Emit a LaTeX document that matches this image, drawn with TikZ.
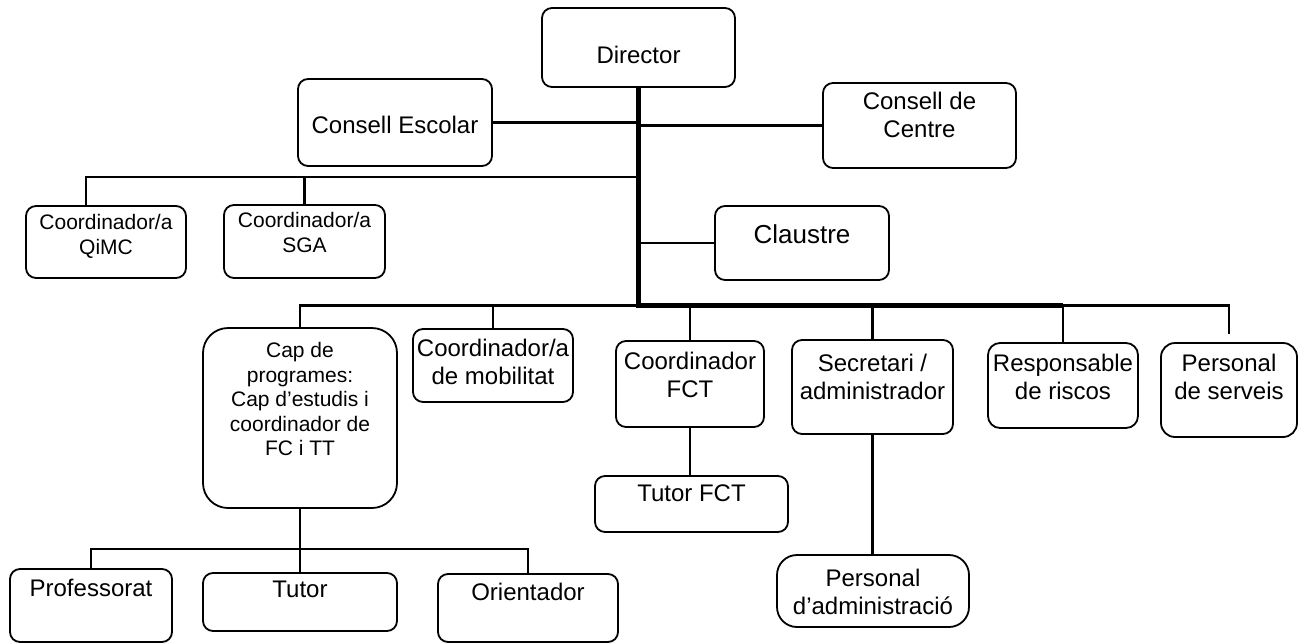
\documentclass[tikz,border=0pt]{standalone}
\usepackage{fontspec}
\setmainfont{Liberation Sans}
\usetikzlibrary{positioning}

\begin{document}
\begin{tikzpicture}[x=1pt, y=-1pt,
    % boxes and their texts
    box/.style={draw, line width=1.8pt, rounded corners=10pt, inner sep=0pt},
    lbl/.style={anchor=north, inner sep=0pt, align=center, font=\fontsize{24}{27.5}\selectfont},
    small/.style={font=\fontsize{21}{24.5}\selectfont},
    % connectors
    link/.style={line width=2.6pt},
    trunk/.style={line width=5pt, line join=miter},
]
    \useasboundingbox (0,0) rectangle (1304,643);

    % Top level
    \node[box, minimum width=193, minimum height=79, label={[lbl, yshift=-39pt]north:Director}] (dir) at (638.5,47.5) {};
    \node[box, minimum width=194, minimum height=87, label={[lbl, yshift=-38pt]north:Consell Escolar}] (cesc) at (395,122.5) {};
    \node[box, minimum width=193, minimum height=85, label={[lbl, yshift=-10pt]north:{Consell de\\Centre}}] (ccen) at (919.5,125.5) {};
    \node[box, minimum width=174, minimum height=74, label={[lbl, yshift=-19pt, font=\fontsize{26}{30}\selectfont]north:Claustre}] (claus) at (802,243) {};

    % Coordinators on the left
    \node[box, minimum width=160, minimum height=72, label={[lbl, small, yshift=-9pt]north:{Coordinador/a\\QiMC}}] (qimc) at (106,242) {};
    \node[box, minimum width=161, minimum height=73, label={[lbl, small, yshift=-8pt]north:{Coordinador/a\\SGA}}] (sga) at (304.5,241.5) {};

    % Second row
    \node[box, rounded corners=25pt, minimum width=194, minimum height=180,
        label={[lbl, small, yshift=-15pt]north:{Cap de\\programes:\\Cap d’estudis i\\coordinador de\\FC i TT}}] (cap) at (300,418) {};
    \node[box, minimum width=160, minimum height=73, label={[lbl, yshift=-11pt]north:{Coordinador/a\\de mobilitat}}] (mob) at (493,365.5) {};
    \node[box, minimum width=148, minimum height=86, label={[lbl, yshift=-12pt]north:{Coordinador\\FCT}}] (cfct) at (690,384) {};
    \node[box, minimum width=161, minimum height=94, label={[lbl, yshift=-15pt]north:{Secretari /\\administrador}}] (sec) at (872.5,387) {};
    \node[box, rounded corners=12pt, minimum width=150, minimum height=85, label={[lbl, yshift=-12pt]north:{Responsable\\de riscos}}] (resp) at (1063,385.5) {};
    \node[box, rounded corners=14pt, minimum width=136, minimum height=94, label={[lbl, yshift=-12pt]north:{Personal\\de serveis}}] (pserv) at (1229,390) {};

    % Third row
    \node[box, minimum width=193, minimum height=56, label={[lbl, yshift=-9pt]north:Tutor FCT}] (tfct) at (691.5,504) {};
    \node[box, rounded corners=20pt, minimum width=192, minimum height=72, label={[lbl, yshift=-15pt]north:{Personal\\d’administració}}] (padm) at (873,591) {};
    \node[box, minimum width=162, minimum height=73, label={[lbl, yshift=-11pt]north:Professorat}] (prof) at (91,605.5) {};
    \node[box, minimum width=194, minimum height=58, label={[lbl, yshift=-9pt]north:Tutor}] (tutor) at (300,602) {};
    \node[box, minimum width=180, minimum height=68, label={[lbl, yshift=-10pt]north:Orientador}] (orient) at (528,608) {};

    % Junctions
    \coordinate (hub) at (dir.south |- 0,305.5);
    \coordinate (ul) at (dir.south |- 0,177);
    \coordinate (qdrop) at (86,177);
    \coordinate (lo) at (cap.south |- 0,549);

    % Main line
    \draw[trunk] (dir.south) -- (hub) -- (hub -| resp.north);
    \draw[link, shorten >=8pt] (hub -| resp.north) -| (pserv.north);
    \draw[link] (hub) -| (cap.north);
    \foreach \n in {mob, cfct, sec, resp}
        \draw[link] (hub -| \n.north) -- (\n.north);

    % Side boxes
    \draw[link] (cesc.east) -- (cesc.east -| dir.south);
    \draw[link] (ccen.west) -- (ccen.west -| dir.south);
    \draw[link] (claus.west) -- (claus.west -| dir.south);
    \draw[link] (ul) -- (qdrop) -- (qdrop |- qimc.north);
    \draw[link] (ul -| sga.north) -- (sga.north);

    % Lower branches
    \draw[link] (cap.south) -- (tutor.north);
    \draw[link] (prof.north) |- (lo) -| (orient.north);
    \draw[link] (cfct.south) -- (cfct.south |- tfct.north);
    \draw[link] (sec.south) -- (sec.south |- padm.north);
\end{tikzpicture}
\end{document}
